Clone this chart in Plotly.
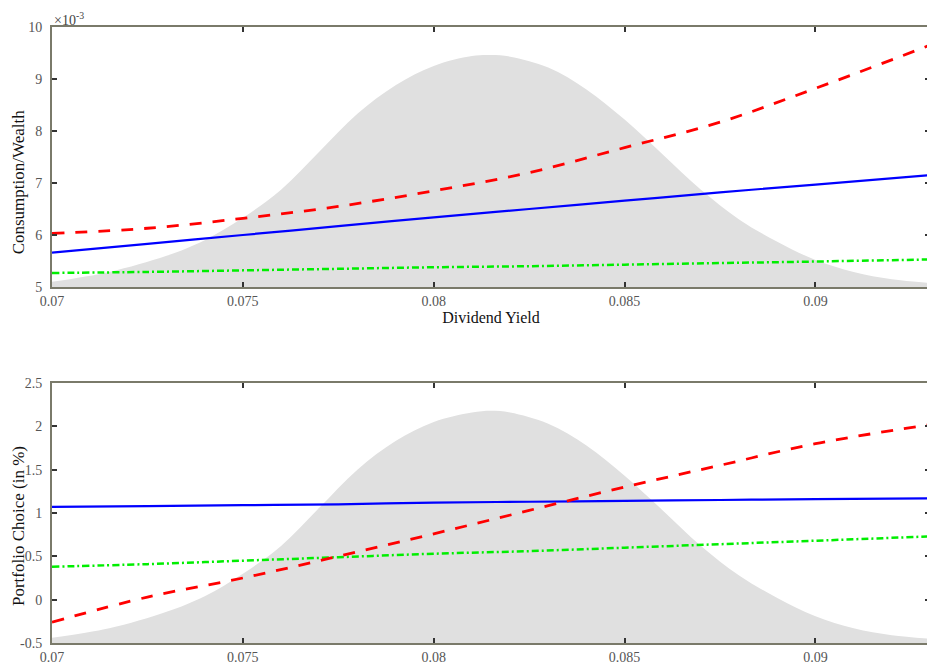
import plotly.graph_objects as go
from plotly.subplots import make_subplots

# ---------------- data ----------------
line_x = [0.070, 0.0725, 0.075, 0.0775, 0.080, 0.0825, 0.085, 0.0875, 0.090, 0.093]

# top panel: Consumption/Wealth (x 10^-3)
cw_red = [6.03, 6.13, 6.32, 6.55, 6.85, 7.20, 7.68, 8.17, 8.82, 9.65]
cw_blue = [5.66, 5.83, 6.00, 6.17, 6.34, 6.50, 6.66, 6.82, 6.97, 7.15]
cw_green = [5.27, 5.29, 5.32, 5.35, 5.38, 5.40, 5.43, 5.46, 5.49, 5.53]

# bottom panel: Portfolio Choice (in %)
pc_red = [-0.26, 0.03, 0.25, 0.50, 0.76, 1.03, 1.30, 1.55, 1.80, 2.02]
pc_blue = [1.07, 1.08, 1.09, 1.10, 1.12, 1.13, 1.14, 1.15, 1.16, 1.17]
pc_green = [0.38, 0.41, 0.45, 0.49, 0.53, 0.56, 0.60, 0.64, 0.68, 0.73]

# shaded density of the dividend yield, as drawn in each panel
dens_x = [0.070, 0.0715, 0.073, 0.074, 0.075, 0.076, 0.077, 0.078, 0.079, 0.080,
          0.081, 0.0815, 0.082, 0.083, 0.084, 0.085, 0.086, 0.087, 0.088, 0.089,
          0.090, 0.091, 0.092, 0.093]
dens_top = [5.10, 5.29, 5.60, 5.90, 6.33, 6.87, 7.60, 8.33, 8.88, 9.25,
            9.44, 9.46, 9.43, 9.22, 8.80, 8.22, 7.55, 6.87, 6.30, 5.87,
            5.52, 5.29, 5.15, 5.08]
dens_bot = [-0.44, -0.33, -0.14, 0.04, 0.30, 0.62, 1.06, 1.50, 1.83, 2.05,
            2.16, 2.18, 2.16, 2.03, 1.78, 1.43, 1.03, 0.62, 0.28, 0.02,
            -0.19, -0.33, -0.41, -0.45]

x_ticks = [0.07, 0.075, 0.08, 0.085, 0.09]
x_tick_text = ["0.07", "0.075", "0.08", "0.085", "0.09"]
top_y_ticks = [5, 6, 7, 8, 9, 10]
bot_y_ticks = [-0.5, 0, 0.5, 1, 1.5, 2, 2.5]
bot_y_text = ["-0.5", "0", "0.5", "1", "1.5", "2", "2.5"]

X_RANGE = [0.07, 0.093]
TOP_RANGE = [5, 10]
BOT_RANGE = [-0.5, 2.5]

# ---------------- styles ----------------
RED = "#ff0000"
BLUE = "#0000ff"
GREEN = "#00ee00"
GREY = "#e0e0e0"
FRAME = "#7a7a6a"
FONT = "Liberation Serif"
TICKFONT = dict(family=FONT, size=14, color="#555555")
TITLEFONT = dict(family=FONT, size=16, color="#111111")

fig = make_subplots(rows=2, cols=1, vertical_spacing=0.1558)


def add_panel(row, dens, ymin, red, blue, green):
    # baseline for the shaded area
    fig.add_trace(go.Scatter(x=[dens_x[0], dens_x[-1]], y=[ymin, ymin], mode="lines",
                             line=dict(width=0, color=GREY), showlegend=False,
                             hoverinfo="skip"), row=row, col=1)
    fig.add_trace(go.Scatter(x=dens_x, y=dens, mode="lines", fill="tonexty",
                             fillcolor=GREY, line=dict(width=0, color=GREY, shape="spline",
                                                       smoothing=1.0),
                             showlegend=False, hoverinfo="skip"), row=row, col=1)
    fig.add_trace(go.Scatter(x=line_x, y=green, mode="lines",
                             line=dict(color=GREEN, width=2.5, dash="7px,3px,2px,3px",
                                       shape="spline"),
                             showlegend=False), row=row, col=1)
    fig.add_trace(go.Scatter(x=line_x, y=blue, mode="lines",
                             line=dict(color=BLUE, width=2.2, shape="spline"),
                             showlegend=False), row=row, col=1)
    fig.add_trace(go.Scatter(x=line_x, y=red, mode="lines",
                             line=dict(color=RED, width=2.8, dash="12px,11px",
                                       shape="spline"),
                             showlegend=False), row=row, col=1)


add_panel(1, dens_top, TOP_RANGE[0], cw_red, cw_blue, cw_green)
add_panel(2, dens_bot, BOT_RANGE[0], pc_red, pc_blue, pc_green)

axis_common = dict(showline=True, linecolor=FRAME, linewidth=2, mirror="ticks",
                   ticks="inside", ticklen=5, tickwidth=1.5, tickcolor="#333333",
                   showgrid=False, zeroline=False, tickfont=TICKFONT)

for r in (1, 2):
    fig.update_xaxes(range=X_RANGE, tickvals=x_ticks, ticktext=x_tick_text,
                     row=r, col=1, **axis_common)
    fig.update_yaxes(ticklabelstandoff=5, row=r, col=1)

fig.update_xaxes(title=dict(text="Dividend Yield", font=TITLEFONT, standoff=0), row=1, col=1)
fig.update_yaxes(range=TOP_RANGE, tickvals=top_y_ticks, row=1, col=1, **axis_common)
fig.update_yaxes(range=BOT_RANGE, tickvals=bot_y_ticks, ticktext=bot_y_text, row=2, col=1,
                 **axis_common)

# y-axis titles placed like the original (slightly below each panel's centre)
fig.add_annotation(text="Consumption/Wealth", xref="paper", yref="paper",
                   x=-0.0386, y=0.748, textangle=-90, showarrow=False,
                   xanchor="center", yanchor="middle",
                   font=dict(family=FONT, size=17, color="#111111"))
fig.add_annotation(text="Portfolio Choice (in %)", xref="paper", yref="paper",
                   x=-0.0375, y=0.19, textangle=-90, showarrow=False,
                   xanchor="center", yanchor="middle",
                   font=dict(family=FONT, size=17, color="#111111"))

fig.add_annotation(text="×10<sup>-3</sup>", xref="paper", yref="paper", x=0.0, y=1.0,
                   xanchor="left", yanchor="bottom", showarrow=False, yshift=-3,
                   font=dict(family=FONT, size=14, color="#444444"))

# the page adds an 8px body margin, so the figure is sized to fit the window
fig.update_layout(width=927, height=660, margin=dict(l=44, r=3, t=19, b=25),
                  paper_bgcolor="white", plot_bgcolor="white")

fig.write_html("out.html")
